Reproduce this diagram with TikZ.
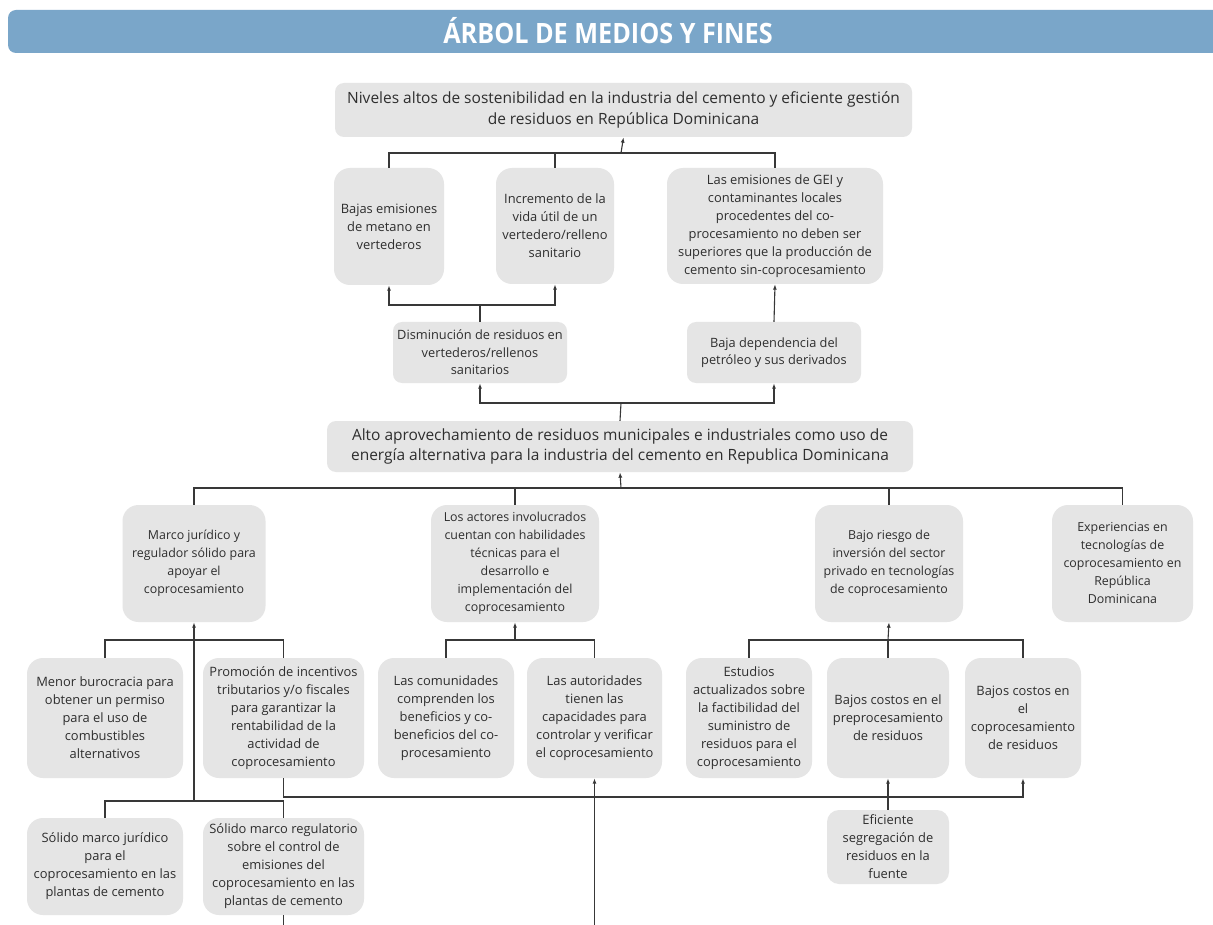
\documentclass[tikz,border=0pt]{standalone}
\usepackage{fontspec}
\setmainfont{Open Sans}
\newfontfamily\titlefont[FakeStretch=0.9]{Open Sans}
\usetikzlibrary{arrows.meta}
\definecolor{boxgray}{HTML}{E5E5E5}
\definecolor{linegray}{HTML}{383838}
\definecolor{txtgray}{HTML}{2E2E2E}
\definecolor{titleblue}{HTML}{7AA6C9}
\begin{document}
\begin{tikzpicture}[x=1pt,y=-1pt,
  box/.style={fill=boxgray, rounded corners=16pt, inner sep=0pt, align=center, text=txtgray, font=\fontsize{12.9}{18}\selectfont},
  condbox/.style={box, font=\fontsize{12.4}{18}\selectfont},
  bigbox/.style={box, rounded corners=9pt, font=\fontsize{15.5}{20.5}\selectfont},
  medbox/.style={box, rounded corners=9pt, font=\fontsize{12.8}{17.5}\selectfont},
  conn/.style={draw=linegray, line width=1.1pt},
  arr/.style={conn, -{Latex[length=5.5pt,width=4pt]}},
]
\useasboundingbox (0,0) rectangle (1213,925);
\clip (0,0) rectangle (1213,925);
\fill[white] (0,0) rectangle (1213,925);
% title
\fill[titleblue, rounded corners=8pt] (8,10) rectangle (1240,53);
\node[text=white, font=\titlefont\bfseries\fontsize{28}{28}\selectfont] (title) at (608,31) {ÁRBOL DE MEDIOS Y FINES};

% nodes
\node[bigbox, minimum width=577pt, minimum height=54pt] (top) at (623.5,110) {Niveles altos de sostenibilidad en la industria del cemento y eficiente gestión\\de residuos en República Dominicana};
\node[box, minimum width=110pt, minimum height=117pt] (b1) at (389,226.5) {Bajas emisiones\\de metano en\\vertederos};
\node[box, minimum width=118pt, minimum height=116pt] (b2) at (555,226) {Incremento de la\\vida útil de un\\vertedero/relleno\\sanitario};
\node[box, minimum width=216pt, minimum height=116pt] (b3) at (775,226) {Las emisiones de GEI y\\contaminantes locales\\procedentes del co-\\procesamiento no deben ser\\superiores que la producción de\\cemento sin-coprocesamiento};
\node[medbox, minimum width=174pt, minimum height=61pt] (dis) at (480,352.5) {Disminución de residuos en\\vertederos/rellenos\\sanitarios};
\node[medbox, minimum width=174pt, minimum height=61pt] (baja) at (774,352.5) {Baja dependencia del\\petróleo y sus derivados};
\node[bigbox, minimum width=586pt, minimum height=51pt] (mid) at (620,446.5) {Alto aprovechamiento de residuos municipales e industriales como uso de\\energía alternativa para la industria del cemento en Republica Dominicana};

\node[condbox, minimum width=143pt, minimum height=117pt] (L1) at (194,563.5) {Marco jurídico y\\regulador sólido para\\apoyar el\\coprocesamiento};
\node[condbox, minimum width=168pt, minimum height=117pt] (L2) at (515,563.5) {Los actores involucrados\\cuentan con habilidades\\técnicas para el\\desarrollo e\\implementación del\\coprocesamiento};
\node[condbox, minimum width=148pt, minimum height=117pt] (L3) at (889,563.5) {Bajo riesgo de\\inversión del sector\\privado en tecnologías\\de coprocesamiento};
\node[condbox, minimum width=141pt, minimum height=117pt] (L4) at (1122.5,563.5) {Experiencias en\\tecnologías de\\coprocesamiento en\\República\\Dominicana};

\node[box, minimum width=156pt, minimum height=120pt] (men) at (105,718) {Menor burocracia para\\obtener un permiso\\para el uso de\\combustibles\\alternativos};
\node[box, minimum width=161pt, minimum height=120pt] (prom) at (283.5,718) {Promoción de incentivos\\tributarios y/o fiscales\\para garantizar la\\rentabilidad de la\\actividad de\\coprocesamiento};
\node[box, minimum width=136pt, minimum height=120pt] (com) at (446,718) {Las comunidades\\comprenden los\\beneficios y co-\\beneficios del co-\\procesamiento};
\node[box, minimum width=135pt, minimum height=120pt] (aut) at (594.5,718) {Las autoridades\\tienen las\\capacidades para\\controlar y verificar\\el coprocesamiento};
\node[box, minimum width=126pt, minimum height=120pt] (est) at (749,718) {Estudios\\actualizados sobre\\la factibilidad del\\suministro de\\residuos para el\\coprocesamiento};
\node[box, minimum width=122pt, minimum height=120pt] (pre) at (888,718) {Bajos costos en el\\preprocesamiento\\de residuos};
\node[box, minimum width=116pt, minimum height=120pt] (cop) at (1023,718) {Bajos costos en\\el\\coprocesamiento\\de residuos};

\node[box, minimum width=156pt, minimum height=97pt] (sj) at (105,866.5) {Sólido marco jurídico\\para el\\coprocesamiento en las\\plantas de cemento};
\node[box, minimum width=161pt, minimum height=97pt] (sr) at (283.5,866.5) {Sólido marco regulatorio\\sobre el control de\\emisiones del\\coprocesamiento en las\\plantas de cemento};
\node[box, rounded corners=12pt, minimum width=122pt, minimum height=74pt] (efi) at (888,847) {Eficiente\\segregación de\\residuos en la\\fuente};

% junction coordinates
\coordinate (jt) at (621,153);
\coordinate (jd) at (480,305);
\coordinate (jm) at (621,403);
\coordinate (jr) at (621,488);
\coordinate (j1) at (194,640);
\coordinate (j1b) at (194,801);
\coordinate (j2) at (515,640);
\coordinate (j3) at (888,640);
\coordinate (jb) at (888,797);
\coordinate (jout) at (594,945);

% connectors
\draw[conn] (b1.north) |- (jt) -| (b3.north);
\draw[conn] (b2.north) -- (b2.north |- jt);
\draw[arr] (jt) -- (top.south);

\draw[conn] (dis.north) -- (jd);
\draw[arr] (jd) -| (b1.south);
\draw[arr] (jd) -| (b2.south);
\draw[arr] (baja.north) -- (b3.south);

\draw[conn] (mid.north) -- (jm);
\draw[arr] (jm) -| (dis.south);
\draw[arr] (jm) -| (baja.south);

\draw[arr] (jr) -- (mid.south);
\draw[conn] (L1.north) |- (jr) -| (L4.north);
\draw[conn] (L2.north) -- (L2.north |- jr);
\draw[conn] (L3.north) -- (L3.north |- jr);

\draw[conn] (men.north) |- (j1) -| (prom.north);
\draw[arr] (j1b) -- (L1.south);
\draw[conn] (sj.north) |- (j1b) -| (sr.north);

\draw[arr] (j2) -- (L2.south);
\draw[conn] (com.north) |- (j2) -| (aut.north);

\draw[arr] (j3) -- (L3.south);
\draw[conn] (est.north) |- (j3) -| (cop.north);
\draw[conn] (pre.north) -- (j3);

\draw[arr] (prom.south) |- (jb) -| (cop.south);
\draw[arr] (efi.north) -- (pre.south);
\draw[arr] (sr.south) |- (jout) -| (aut.south);
\end{tikzpicture}
\end{document}
